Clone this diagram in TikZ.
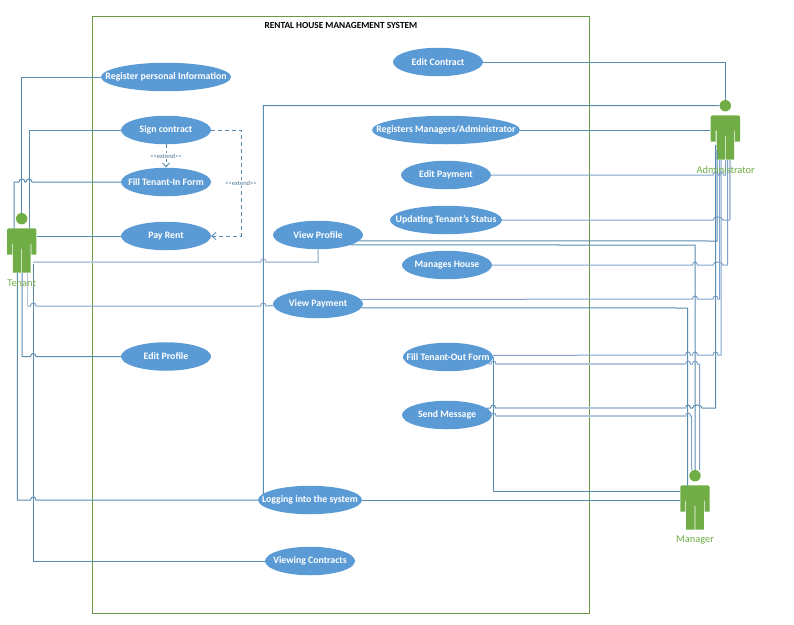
\documentclass[tikz,border=0pt]{standalone}
\usepackage{fontspec}
\setmainfont{Carlito}
\usetikzlibrary{shapes.geometric,arrows.meta}
\definecolor{ucblue}{HTML}{5B9BD5}
\definecolor{actgreen}{HTML}{70AD47}
\definecolor{framegreen}{HTML}{6A9A48}
\definecolor{darkln}{HTML}{5A8CB0}
\definecolor{midln}{HTML}{7FA3CC}
\definecolor{lightln}{HTML}{B4C6DE}
\tikzset{
  uc/.style={ellipse,fill=ucblue,inner sep=0pt,minimum height=28.5pt,text=white,font=\fontsize{9.8}{11}\selectfont\bfseries},
  dk/.style={draw=darkln,line width=1pt},
  md/.style={draw=midln,line width=1pt},
  lt/.style={draw=lightln,line width=1.5pt},
  dsh/.style={draw=darkln,line width=0.9pt,dash pattern=on 4pt off 3pt},
  extl/.style={fill=white,inner sep=1pt,text=darkln!85!black,font=\fontsize{6.5}{7}\selectfont},
  actl/.style={text=actgreen,font=\fontsize{10.4}{12}\selectfont},
  opent/.style={-{Straight Barb[length=4pt,width=7pt]}}
}
% use case: name, x, y, full width, text
\newcommand\ucase[5]{\node[uc,minimum width=#4pt] (#1) at (#2,#3) {\makebox[0pt]{\raisebox{-0.8pt}{#5}}};}
% line jump between x1 and x2 on height y
\newcommand\jmp[3]{-- (#1,#3) .. controls (#1,#3-4) and (#2,#3-4) .. (#2,#3)}
% actor: name, x, head y
\newcommand\actorfig[3]{%
  \node[circle,fill=actgreen,inner sep=0pt,minimum size=11.4pt] (#1h) at (#2,#3) {};
  \node[inner sep=0pt,minimum width=29.4pt,minimum height=44.4pt] (#1b) at (#2,#3+31.8) {};
  \fill[actgreen] (#2-14.7,#3+36) -- (#2-14.7,#3+11) -- (#2-13.2,#3+9.6) -- (#2+13.2,#3+9.6) -- (#2+14.7,#3+11) -- (#2+14.7,#3+36) -- (#2+9.6,#3+36) -- (#2+9.6,#3+25) -- (#2+8.8,#3+25) -- (#2+8.8,#3+54) -- (#2+0.4,#3+54) -- (#2+0.4,#3+30) -- (#2-0.4,#3+30) -- (#2-0.4,#3+54) -- (#2-8.8,#3+54) -- (#2-8.8,#3+25) -- (#2-9.6,#3+25) -- (#2-9.6,#3+36) -- cycle;
}
\begin{document}
\begin{tikzpicture}[x=1pt,y=-1pt]
\useasboundingbox (0,0) rectangle (794,624);
\node[draw=framegreen,line width=1pt,inner sep=0pt,minimum width=497pt,minimum height=597pt] (sys) at (340.5,314.5) {};
\node[font=\fontsize{9.3}{10}\selectfont\bfseries] (title) at (341,25) {RENTAL HOUSE MANAGEMENT SYSTEM};

\actorfig{ten}{21.7}{218.7}
\actorfig{adm}{725.3}{105.7}
\actorfig{mgr}{695}{475.7}

\ucase{reg}{166}{77}{130}{Register personal Information}
\ucase{sign}{166}{130}{90}{Sign contract}
\ucase{fillin}{166}{182}{90}{Fill Tenant-In Form}
\ucase{pay}{166}{236}{90}{Pay Rent}
\ucase{edprof}{166}{356.5}{90}{Edit Profile}
\ucase{vprof}{318}{235}{90}{View Profile}
\ucase{vpay}{318}{304}{90}{View Payment}
\ucase{login}{310}{500}{104}{Logging into the system}
\ucase{vcon}{310}{561}{90}{Viewing Contracts}
\ucase{edcon}{438}{62}{90}{Edit Contract}
\ucase{regm}{446}{130}{148}{Registers Managers/Administrator}
\ucase{edpay}{446}{175}{90}{Edit Payment}
\ucase{upd}{446}{220}{112}{Updating Tenant's Status}
\ucase{mang}{447}{265}{90}{Manages House}
\ucase{fout}{448}{357}{90}{Fill Tenant-Out Form}
\ucase{send}{447}{415}{90}{Send Message}

% extend relations
\draw[dsh,opent] (sign.south) -- node[extl] (e1) {<{}<extend>{}>} (fillin.north);
\draw[dsh,opent] (sign.east) -- (241,130) -- node[extl] (e2) {<{}<extend>{}>} (241,236) -- (pay.east);

% tenant side
\draw[dk] (reg.west) -- (21.7,77) -- (tenh.north);
\draw[dk] (sign.west) -- (29,130) -- (29,228.3);
\draw[dk] (fillin.west) \jmp{32}{26}{182} \jmp{25}{19}{182} -- (14,182) -- (14,228.3);
\draw[dk] (pay.west) -- (pay.west -| tenb.east);
\draw[lt] (33,262) \jmp{260.5}{266}{262} -- (318,262) -- (vprof.south);
\draw[md] (vpay.182.5) \jmp{266}{260.5}{306} \jmp{36}{30.5}{306} -- (27.7,306);
\draw[lt] (27.7,306) -- (27.7,272.7);
\draw[dk] (edprof.west) \jmp{36}{30.5}{356.5} -- (22,356.5) -- (22,272.7);
\draw[dk] (login.west) \jmp{36}{30.5}{500} -- (17.3,500) -- (17.3,272.7);
\draw[dk] (vcon.west) -- (33.3,561) -- (33.3,264);

% login to the other actors
\draw[dk] (login.172.7) -- (263.3,494) -- (263.3,105.7) -- (admh.west);
\draw[dk] (login.east) -- (login.east -| mgrb.west);

% administrator side
\draw[dk] (edcon.east) -- (725.3,62) -- (admh.north);
\draw[dk] (regm.east) -- (regm.east -| admb.west);
\draw[md] (edpay.east) \jmp{713}{718.5}{175} \jmp{720}{723.5}{175} -- (725.7,175) -- (725.7,160);
\draw[md] (upd.east) \jmp{713}{723}{220} -- (730,220);
\draw[lt] (730,220) -- (730,160);
\draw[dk] (vprof.-8.3) -- (717,241) -- (717,150);
\draw[md] (mang.east) \jmp{692.5}{697.5}{265} \jmp{713}{723}{265} -- (727.7,265) -- (727.7,160);
\draw[md] (vpay.6.8) \jmp{692.5}{697.5}{299} \jmp{713}{718}{299} -- (719.5,299) -- (719.5,160);
\draw[md] (fout.2.5) \jmp{685.5}{690.5}{355} \jmp{692.5}{697.5}{355} \jmp{713}{718}{355} -- (721,355) -- (721,160);
\draw[dk] (send.10.2) \jmp{490.5}{495.5}{408} \jmp{685.5}{690.5}{408} \jmp{692.5}{702}{408} -- (715.7,408) -- (715.7,145);

% manager side
\draw[dk] (vprof.-17.6) -- (695,245) -- (mgrh.north);
\draw[dk] (vpay.-5) -- (687.7,308) -- (687.7,486);
\draw[md] (fout.-10.2) \jmp{491}{496}{364} \jmp{685.5}{690.5}{364} \jmp{692.5}{697.5}{364} -- (699.7,364) -- (699.7,470);
\draw[md] (send.east) \jmp{491}{496}{416} \jmp{685.5}{690.5}{416} -- (691.7,416) -- (691.7,470);
\draw[lt] (496,364) -- (685.5,364);
\draw[lt] (496,416) -- (685.5,416);
\draw[lt] (496,408) -- (685.5,408);
\draw[dk] (fout.east) -- (493.3,357) -- (493.3,491) -- (680.3,491);

\node[actl] (tenl) at (21.7,283) {Tenant};
\node[actl] (adml) at (725.7,170) {Administrator};
\node[actl] (mgrl) at (695,540) {Manager};
\end{tikzpicture}
\end{document}
